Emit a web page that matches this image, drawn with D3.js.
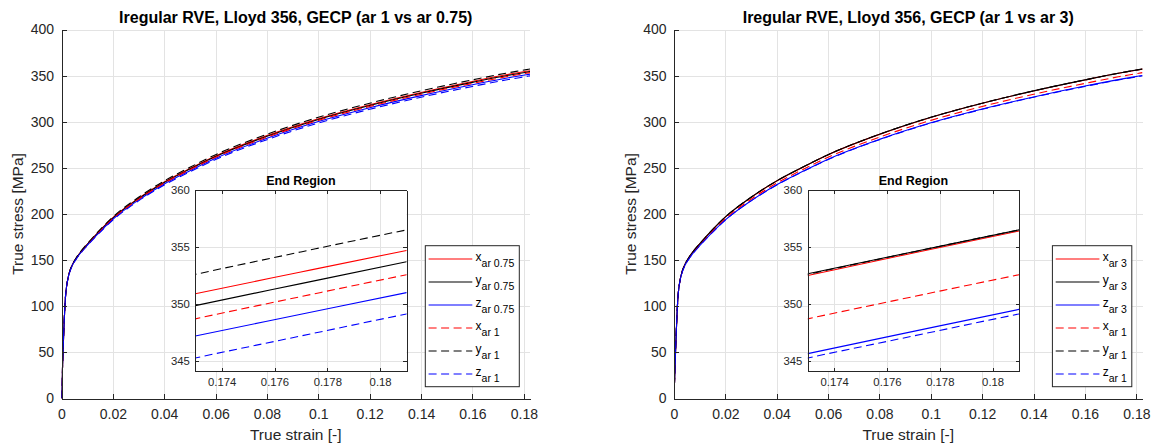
<!DOCTYPE html>
<html>
<head>
<meta charset="utf-8">
<title>Iregular RVE, Lloyd 356, GECP</title>
<style>
    body
    {
        margin: 0;
        background: #ffffff;
        font-family: "Liberation Sans", Arial, Helvetica, sans-serif;
    }

    svg
    {
        display: block;
    }

    .grid line
    {
        stroke: #e3e3e3;
        stroke-width: 1;
        shape-rendering: crispEdges;
    }

    .grid path
    {
        display: none;
    }

    .axis path,
    .axis line
    {
        stroke: #262626;
        stroke-width: 1;
        shape-rendering: crispEdges;
    }

    .axis text
    {
        fill: #262626;
    }
</style>
<script src="https://d3js.org/d3.v7.min.js"></script>
</head>
<body>
<svg id="chart" width="1151" height="446"></svg>
<script>
// true strain [-]
var strain = [0, 0.0016, 0.002, 0.0025, 0.0032, 0.0042, 0.0058, 0.0075, 0.01, 0.015, 0.02, 0.03,
              0.04, 0.05, 0.06, 0.08, 0.10, 0.12, 0.14, 0.16, 0.173, 0.177, 0.181, 0.1824];

// true stress [MPa], aspect ratio 1
var xAr1 = [0, 112, 122, 130, 137.5, 144.5, 152, 158.5, 166.5, 181.5, 195, 216, 233.5, 248, 261.5, 283.3, 301.5, 316.6, 329.8, 341.6, 348.7, 350.65, 352.57, 353.22];
var yAr1 = [0, 112.1, 122.2, 130.3, 138.0, 145.1, 152.8, 159.5, 167.7, 183.0, 196.8, 218.1, 235.9, 250.6, 264.3, 286.4, 304.8, 320.1, 333.5, 345.4, 352.6, 354.57, 356.5, 357.15];
var zAr1 = [0, 111.9, 121.8, 129.7, 137.1, 144.0, 151.3, 157.6, 165.5, 180.2, 193.5, 214.2, 231.4, 245.8, 259.1, 280.6, 298.6, 313.5, 326.6, 338.3, 345.27, 347.2, 349.13, 349.78];

// aspect ratio 0.75
var xAr075 = [0, 112.1, 122.1, 130.2, 137.8, 144.8, 152.4, 159.0, 167.1, 182.3, 196.0, 217.1, 234.8, 249.4, 263.0, 285.0, 303.3, 318.5, 331.8, 343.7, 350.9, 352.81, 354.7, 355.35];
var yAr075 = [0, 112.0, 122.1, 130.1, 137.6, 144.7, 152.2, 158.8, 166.8, 181.9, 195.5, 216.6, 234.2, 248.7, 262.3, 284.2, 302.5, 317.6, 330.9, 342.7, 349.86, 351.79, 353.7, 354.35];
var zAr075 = [0, 112.0, 121.9, 129.9, 137.3, 144.3, 151.7, 158.1, 166.0, 180.9, 194.3, 215.2, 232.6, 247.0, 260.4, 282.1, 300.2, 315.2, 328.3, 340.1, 347.2, 349.1, 351.0, 351.65];

// aspect ratio 3
var xAr3 = [0, 112.1, 122.2, 130.3, 138.0, 145.1, 152.8, 159.5, 167.6, 182.9, 196.7, 218.0, 235.8, 250.5, 264.2, 286.3, 304.7, 320.0, 333.4, 345.3, 352.5, 354.47, 356.4, 357.05];
var yAr3 = [0, 112.1, 122.2, 130.3, 138.0, 145.1, 152.8, 159.5, 167.7, 183.0, 196.8, 218.1, 235.9, 250.6, 264.3, 286.4, 304.8, 320.1, 333.5, 345.4, 352.65, 354.58, 356.5, 357.15];
var zAr3 = [0, 111.9, 121.9, 129.8, 137.1, 144.0, 151.4, 157.7, 165.6, 180.3, 193.6, 214.4, 231.7, 246.0, 259.4, 280.9, 298.9, 313.9, 326.9, 338.7, 345.65, 347.6, 349.53, 350.18];

var mainXTicks = [0, 0.02, 0.04, 0.06, 0.08, 0.1, 0.12, 0.14, 0.16, 0.18];
var mainYTicks = [0, 50, 100, 150, 200, 250, 300, 350, 400];
var insetXTicks = [0.174, 0.176, 0.178, 0.18];
var insetYTicks = [345, 350, 355, 360];

var titles = ["Iregular RVE, Lloyd 356, GECP (ar 1 vs ar 0.75)", "Iregular RVE, Lloyd 356, GECP (ar 1 vs ar 3)"];

var red = "#ff0000", black = "#000000", blue = "#0000ff";

var panels =
[
    {
        left: 61.5,
        title: titles[0],
        series:
        [
            {name: "x", sub: "ar 0.75", values: xAr075, color: red, dashed: false},
            {name: "y", sub: "ar 0.75", values: yAr075, color: black, dashed: false},
            {name: "z", sub: "ar 0.75", values: zAr075, color: blue, dashed: false},
            {name: "x", sub: "ar 1", values: xAr1, color: red, dashed: true},
            {name: "y", sub: "ar 1", values: yAr1, color: black, dashed: true},
            {name: "z", sub: "ar 1", values: zAr1, color: blue, dashed: true}
        ]
    },
    {
        left: 674,
        title: titles[1],
        series:
        [
            {name: "x", sub: "ar 3", values: xAr3, color: red, dashed: false},
            {name: "y", sub: "ar 3", values: yAr3, color: black, dashed: false},
            {name: "z", sub: "ar 3", values: zAr3, color: blue, dashed: false},
            {name: "x", sub: "ar 1", values: xAr1, color: red, dashed: true},
            {name: "y", sub: "ar 1", values: yAr1, color: black, dashed: true},
            {name: "z", sub: "ar 1", values: zAr1, color: blue, dashed: true}
        ]
    }
];

var svg = d3.select("#chart");
svg.append("rect").attr("width", 1151).attr("height", 446).attr("fill", "#ffffff");

var fmt = function(d) { return String(+d.toFixed(3)); };
var dash = "8,4.5";

function drawPanel(p, idx)
{
    var top = 29.5, bottom = 398.5, width = 468.5;
    var right = p.left + width;

    var x = d3.scaleLinear().domain([0, 0.1824]).range([p.left, right]);
    var y = d3.scaleLinear().domain([0, 400]).range([bottom, top]);

    var g = svg.append("g");

    // grid
    g.append("g")
    .attr("class", "grid")
    .attr("transform", "translate(0," + bottom + ")")
    .call(d3.axisBottom(x).tickValues(mainXTicks.slice(1)).tickSize(-(bottom - top)).tickFormat(""));

    g.append("g")
    .attr("class", "grid")
    .attr("transform", "translate(" + p.left + ",0)")
    .call(d3.axisLeft(y).tickValues(mainYTicks.slice(1)).tickSize(-width).tickFormat(""));

    // curves
    var clipId = "clipMain" + idx;
    svg.append("clipPath").attr("id", clipId)
    .append("rect").attr("x", p.left).attr("y", top).attr("width", width).attr("height", bottom - top);

    var line = d3.line()
    .x(function(d, i) { return x(strain[i]); })
    .y(function(d) { return y(d); })
    .curve(d3.curveMonotoneX);

    g.append("g")
    .attr("clip-path", "url(#" + clipId + ")")
    .selectAll("path")
    .data(p.series)
    .enter()
    .append("path")
    .attr("d", function(d) { return line(d.values); })
    .attr("fill", "none")
    .attr("stroke", function(d) { return d.color; })
    .attr("stroke-width", 1.1)
    .attr("stroke-dasharray", function(d) { return d.dashed ? dash : null; });

    // axes
    var xAxis = g.append("g")
    .attr("class", "axis")
    .attr("transform", "translate(0," + bottom + ")")
    .call(d3.axisBottom(x).tickValues(mainXTicks).tickSizeInner(-5).tickSizeOuter(0).tickPadding(10.6).tickFormat(fmt));
    xAxis.selectAll("text").style("font-size", "14px");

    var yAxis = g.append("g")
    .attr("class", "axis")
    .attr("transform", "translate(" + p.left + ",0)")
    .call(d3.axisLeft(y).tickValues(mainYTicks).tickSizeInner(-5).tickSizeOuter(0).tickPadding(7.4));
    yAxis.selectAll("text").style("font-size", "14px");

    g.append("text")
    .attr("x", (p.left + right) / 2)
    .attr("y", 23.3)
    .attr("text-anchor", "middle")
    .style("font-size", "16px")
    .style("font-weight", "bold")
    .attr("fill", "#000000")
    .text(p.title);

    g.append("text")
    .attr("x", (p.left + right) / 2)
    .attr("y", 439.5)
    .attr("text-anchor", "middle")
    .style("font-size", "15.5px")
    .attr("fill", "#262626")
    .text("True strain [-]");

    g.append("text")
    .attr("transform", "translate(" + (p.left - 38.3) + "," + ((top + bottom) / 2) + ") rotate(-90)")
    .attr("text-anchor", "middle")
    .style("font-size", "15.5px")
    .attr("fill", "#262626")
    .text("True stress [MPa]");

    // inset, end region
    var iLeft = p.left + 133.8, iRight = iLeft + 211.2, iTop = 190, iBottom = 371.3;
    var ix = d3.scaleLinear().domain([0.173, 0.181]).range([iLeft, iRight]);
    var iy = d3.scaleLinear().domain([344.1, 360]).range([iBottom, iTop]);

    var ig = svg.append("g");

    ig.append("rect")
    .attr("x", iLeft).attr("y", iTop)
    .attr("width", iRight - iLeft).attr("height", iBottom - iTop)
    .attr("fill", "#ffffff");

    ig.append("g")
    .attr("class", "grid")
    .attr("transform", "translate(0," + iBottom + ")")
    .call(d3.axisBottom(ix).tickValues(insetXTicks).tickSize(-(iBottom - iTop)).tickFormat(""));

    ig.append("g")
    .attr("class", "grid")
    .attr("transform", "translate(" + iLeft + ",0)")
    .call(d3.axisLeft(iy).tickValues(insetYTicks).tickSize(-(iRight - iLeft)).tickFormat(""));

    var iClipId = "clipInset" + idx;
    svg.append("clipPath").attr("id", iClipId)
    .append("rect").attr("x", iLeft).attr("y", iTop).attr("width", iRight - iLeft).attr("height", iBottom - iTop);

    var iLine = d3.line()
    .x(function(d, i) { return ix(strain[i]); })
    .y(function(d) { return iy(d); })
    .curve(d3.curveMonotoneX);

    ig.append("g")
    .attr("clip-path", "url(#" + iClipId + ")")
    .selectAll("path")
    .data(p.series)
    .enter()
    .append("path")
    .attr("d", function(d) { return iLine(d.values); })
    .attr("fill", "none")
    .attr("stroke", function(d) { return d.color; })
    .attr("stroke-width", 1.1)
    .attr("stroke-dasharray", function(d) { return d.dashed ? dash : null; });

    var ib = ig.append("g")
    .attr("class", "axis")
    .attr("transform", "translate(0," + iBottom + ")")
    .call(d3.axisBottom(ix).tickValues(insetXTicks).tickSizeInner(-3.5).tickSizeOuter(0).tickPadding(6.4).tickFormat(fmt));
    ib.selectAll("text").style("font-size", "11.3px");

    ig.append("g")
    .attr("class", "axis")
    .attr("transform", "translate(0," + iTop + ")")
    .call(d3.axisTop(ix).tickValues(insetXTicks).tickSizeInner(-3.5).tickSizeOuter(0).tickFormat(""));

    var il = ig.append("g")
    .attr("class", "axis")
    .attr("transform", "translate(" + iLeft + ",0)")
    .call(d3.axisLeft(iy).tickValues(insetYTicks).tickSizeInner(-3.5).tickSizeOuter(0).tickPadding(5.5));
    il.selectAll("text").style("font-size", "11.3px");

    ig.append("g")
    .attr("class", "axis")
    .attr("transform", "translate(" + iRight + ",0)")
    .call(d3.axisRight(iy).tickValues(insetYTicks).tickSizeInner(-3.5).tickSizeOuter(0).tickFormat(""));

    ig.append("text")
    .attr("x", (iLeft + iRight) / 2)
    .attr("y", 185)
    .attr("text-anchor", "middle")
    .style("font-size", "12.5px")
    .style("font-weight", "bold")
    .attr("fill", "#000000")
    .text("End Region");

    // legend
    var lg = svg.append("g");
    var lTop = 245.7, lBottom = 386.7, rowH = 23;
    var box = lg.append("rect")
    .attr("y", lTop)
    .attr("height", lBottom - lTop)
    .attr("fill", "#ffffff")
    .attr("stroke", "#262626")
    .attr("stroke-width", 1);

    var rows = lg.selectAll("g.row")
    .data(p.series)
    .enter()
    .append("g")
    .attr("class", "row");

    rows.append("line")
    .attr("x1", 3.3).attr("x2", 47)
    .attr("y1", function(d, i) { return lTop + 13.3 + i * rowH; })
    .attr("y2", function(d, i) { return lTop + 13.3 + i * rowH; })
    .attr("stroke", function(d) { return d.color; })
    .attr("stroke-width", 1.1)
    .attr("stroke-dasharray", function(d) { return d.dashed ? dash : null; });

    var labels = rows.append("text")
    .attr("x", 50.3)
    .attr("y", function(d, i) { return lTop + 13.3 + i * rowH + 1.7; })
    .attr("fill", "#000000")
    .style("font-size", "12px");

    labels.append("tspan").text(function(d) { return d.name; });
    labels.append("tspan")
    .attr("dy", 6.6)
    .style("font-size", "10.5px")
    .text(function(d) { return d.sub; });

    var textW = 0;
    labels.each(function() { textW = Math.max(textW, this.getComputedTextLength()); });
    var boxW = 50.3 + textW + 5;
    var boxLeft = right - 10.7 - boxW;

    box.attr("x", boxLeft).attr("width", boxW);
    rows.attr("transform", "translate(" + boxLeft + ",0)");
}

panels.forEach(drawPanel);
</script>
</body>
</html>
